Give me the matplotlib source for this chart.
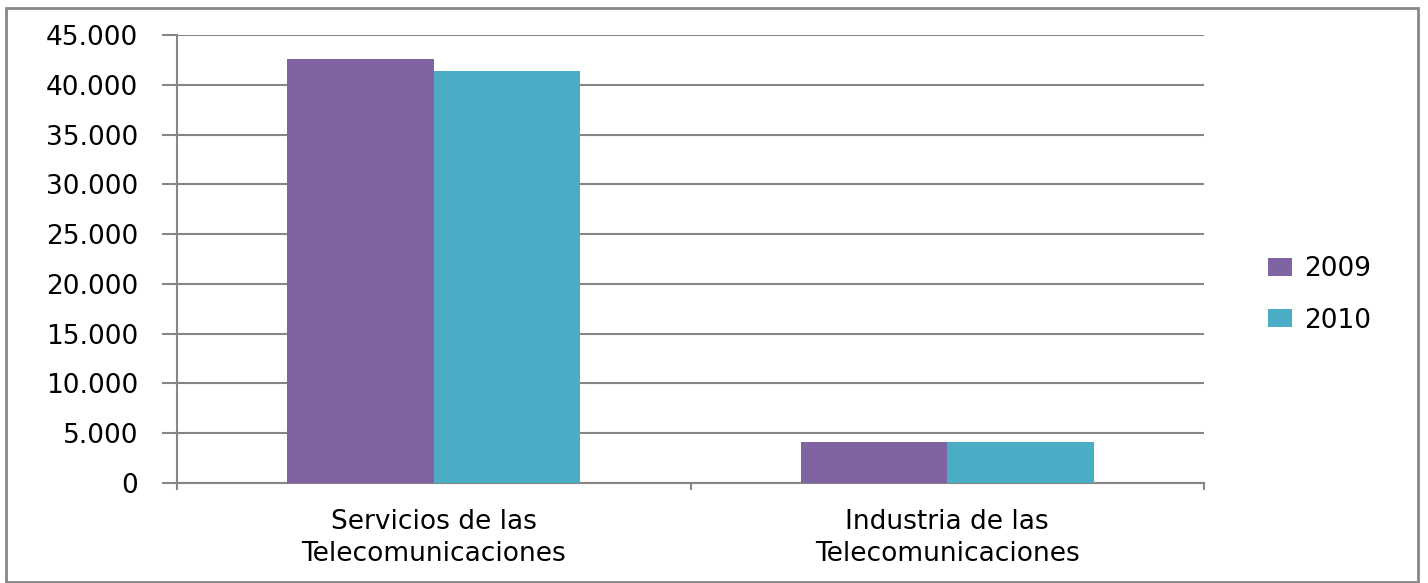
import matplotlib
matplotlib.use("Agg")
import matplotlib.pyplot as plt
from matplotlib.patches import Rectangle

categories = ["Servicios de las\nTelecomunicaciones", "Industria de las\nTelecomunicaciones"]
series_names = ["2009", "2010"]
values_2009 = [42600, 4100]
values_2010 = [41400, 4100]
y_ticks = [0, 5000, 10000, 15000, 20000, 25000, 30000, 35000, 40000, 45000]
y_tick_labels = ["0", "5.000", "10.000", "15.000", "20.000", "25.000", "30.000", "35.000", "40.000", "45.000"]

plt.rcParams['font.family'] = ['DejaVu Sans']

W, H = 1428, 583
fig = plt.figure(figsize=(W / 100, H / 100), dpi=100)
ax = fig.add_axes([177 / W, 1 - 483 / H, (1204 - 177) / W, (483 - 35) / H])

grid_col = "#868686"
c09 = "#8064A2"
c10 = "#4BACC6"
lw = 1.5

x = [0, 1]
bw = 0.285
ax.bar([i - bw / 2 for i in x], values_2009, width=bw, color=c09, label=series_names[0], zorder=3)
ax.bar([i + bw / 2 for i in x], values_2010, width=bw, color=c10, label=series_names[1], zorder=3)

ax.set_xlim(-0.5, 1.5)
ax.set_ylim(0, 45000)
ax.set_yticks(y_ticks)
ax.set_yticklabels(y_tick_labels, fontsize=19)
ax.yaxis.grid(True, color=grid_col, linewidth=lw, zorder=0)
ax.set_axisbelow(True)

for s in ["top", "right"]:
    ax.spines[s].set_visible(False)
for s in ["left", "bottom"]:
    ax.spines[s].set_color(grid_col)
    ax.spines[s].set_linewidth(lw)

ax.tick_params(axis="y", direction="out", length=10.8, width=lw, color=grid_col, pad=17, labelcolor="black")
ax.set_xticks(x)
ax.set_xticklabels(categories, fontsize=19, linespacing=1.3)
ax.tick_params(axis="x", which="major", length=0, pad=19)
ax.set_xticks([-0.5, 0.5, 1.5], minor=True)
ax.tick_params(axis="x", which="minor", direction="out", length=5, width=lw, color=grid_col)

leg = ax.legend(loc="center left", bbox_to_anchor=(1268 / W, 1 - 295 / H), bbox_transform=fig.transFigure,
                frameon=False, fontsize=19, handlelength=0.9, handleheight=0.65,
                handletextpad=0.45, labelspacing=0.95, borderpad=0, borderaxespad=0)

fig.patches.append(Rectangle((6 / W, 1 - 582 / H), (1418 - 6) / W, (582 - 8) / H,
                             transform=fig.transFigure, fill=False, edgecolor="#878787",
                             linewidth=2, zorder=10))

fig.savefig("out.png", dpi=100)
